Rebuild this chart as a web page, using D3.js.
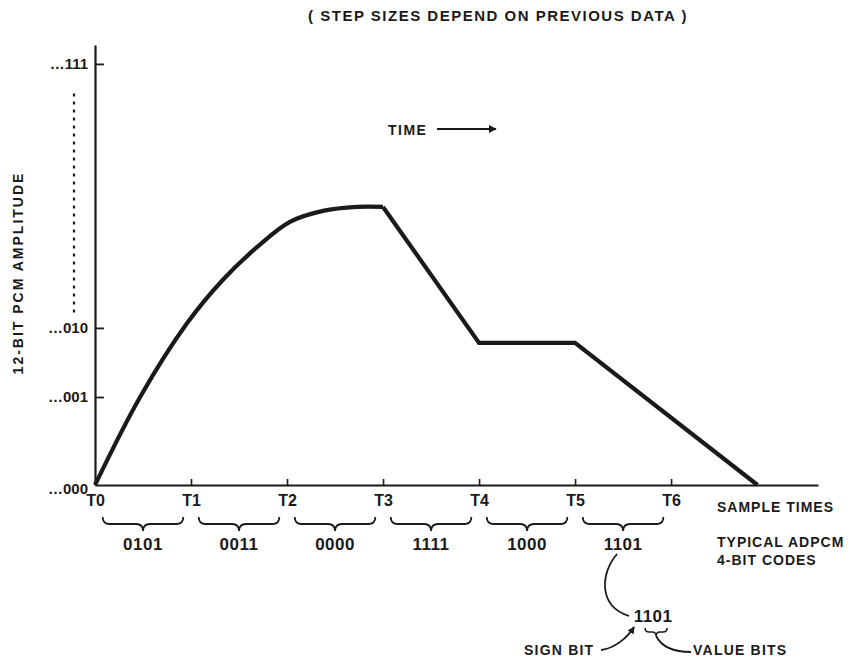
<!DOCTYPE html>
<html>
<head>
<meta charset="utf-8">
<script src="https://cdn.jsdelivr.net/npm/d3@7"></script>
<style>
  body { margin: 0; background: #fff; }
  text { font-family: "Liberation Sans", Arial, sans-serif; font-weight: bold; fill: #1a1a1a; }
</style>
</head>
<body>
<div id="chart"></div>
<script>
// sample instants T0..T6 sit at t = 0..6
var sampleTimes = ["T0", "T1", "T2", "T3", "T4", "T5", "T6"];
var codes = ["0101", "0011", "0000", "1111", "1000", "1101"];
var levelLabels = ["\u2026000", "\u2026001", "\u2026010", "\u2026111"];
var levelValues = [0, 20, 35.7, 95.7];

// smooth rise, T0 -> T3
var riseT = [0, 0.47, 0.96, 1.33, 1.69, 2.03, 2.375, 2.73, 3.0];
var riseV = [0, 20, 36.8, 46.6, 54.1, 59.8, 62.3, 63.2, 63.2];
// straight segments, T3 -> end
var fallT = [3, 4, 5, 6.9];
var fallV = [63.2, 32.3, 32.3, 0];

var width = 861, height = 661;

var svg = d3.select("#chart").append("svg")
    .attr("width", width)
    .attr("height", height);

var x = d3.scaleLinear().domain([0, 7.53]).range([95, 818]);
var y = d3.scaleLinear().domain([0, 100]).range([485, 45]);

var ink = "#1a1a1a";

// x axis
var xAxis = d3.axisBottom(x)
    .tickValues(d3.range(sampleTimes.length))
    .tickFormat(function(d) { return sampleTimes[d]; })
    .tickSizeInner(-6)
    .tickSizeOuter(0)
    .tickPadding(10);

var gx = svg.append("g")
    .attr("transform", "translate(0," + y(0) + ")")
    .call(xAxis);
gx.select(".domain").attr("stroke", ink).attr("stroke-width", 2.2);
gx.selectAll(".tick line").attr("stroke", ink).attr("stroke-width", 1.6);
gx.selectAll(".tick text").attr("font-size", 16).attr("fill", ink)
    .style("font-family", "Liberation Sans, Arial, sans-serif").style("font-weight", "bold");
gx.selectAll(".tick").filter(function(d) { return d === 0; }).select("line").remove();

// y axis
var yAxis = d3.axisLeft(y)
    .tickValues(levelValues)
    .tickFormat(function(d, i) { return levelLabels[i]; })
    .tickSizeInner(-9)
    .tickSizeOuter(0)
    .tickPadding(7);

var gy = svg.append("g")
    .attr("transform", "translate(" + x(0) + ",0)")
    .call(yAxis);
gy.select(".domain").attr("stroke", ink).attr("stroke-width", 2.2);
gy.selectAll(".tick line").attr("stroke", ink).attr("stroke-width", 1.8);
gy.selectAll(".tick").filter(function(d) { return d === 0; }).select("line").remove();
gy.selectAll(".tick text").attr("font-size", 15).attr("fill", ink)
    .style("font-family", "Liberation Sans, Arial, sans-serif").style("font-weight", "bold")
    .attr("dy", function(d) { return d === 0 ? "0.55em" : "0.32em"; });

// dotted break in the level scale
svg.append("line")
    .attr("x1", 74).attr("x2", 74)
    .attr("y1", y(89)).attr("y2", y(39))
    .attr("stroke", ink)
    .attr("stroke-width", 2.2)
    .attr("stroke-dasharray", "3,5");

// y title
svg.append("text")
    .attr("transform", "translate(23," + 273 + ") rotate(-90)")
    .attr("text-anchor", "middle")
    .attr("font-size", 14)
    .attr("letter-spacing", 2)
    .text("12-BIT PCM AMPLITUDE");

// waveform
var rise = riseT.map(function(t, i) { return [t, riseV[i]]; });
var fall = fallT.map(function(t, i) { return [t, fallV[i]]; });

var line = d3.line()
    .x(function(d) { return x(d[0]); })
    .y(function(d) { return y(d[1]); });

svg.append("path")
    .datum(rise)
    .attr("fill", "none")
    .attr("stroke", ink)
    .attr("stroke-width", 4.2)
    .attr("stroke-linejoin", "round")
    .attr("d", line.curve(d3.curveCatmullRom.alpha(0.5)));

svg.append("path")
    .datum(fall)
    .attr("fill", "none")
    .attr("stroke", ink)
    .attr("stroke-width", 4.2)
    .attr("stroke-linejoin", "miter")
    .attr("d", line.curve(d3.curveLinear));

// title
svg.append("text")
    .attr("x", 498).attr("y", 21)
    .attr("text-anchor", "middle")
    .attr("font-size", 15)
    .attr("letter-spacing", 1.5)
    .text("( STEP SIZES DEPEND ON PREVIOUS DATA )");

// time arrow
svg.append("text")
    .attr("x", 388).attr("y", 135)
    .attr("font-size", 14)
    .attr("letter-spacing", 1.5)
    .text("TIME");

svg.append("defs").append("marker")
    .attr("id", "head")
    .attr("viewBox", "0 0 10 10")
    .attr("refX", 9).attr("refY", 5)
    .attr("markerWidth", 4).attr("markerHeight", 4)
    .attr("orient", "auto")
  .append("path")
    .attr("d", "M0,0 L10,5 L0,10 z")
    .attr("fill", ink);

svg.append("line")
    .attr("x1", 437).attr("x2", 496)
    .attr("y1", 129).attr("y2", 129)
    .attr("stroke", ink).attr("stroke-width", 2)
    .attr("marker-end", "url(#head)");

// braces + 4-bit codes
function brace(x0, x1, top, q) {
  var m = (x0 + x1) / 2;
  return "M" + x0 + "," + top +
    " Q" + x0 + "," + (top + q) + " " + (x0 + q) + "," + (top + q) +
    " L" + (m - q) + "," + (top + q) +
    " Q" + m + "," + (top + q) + " " + m + "," + (top + 2 * q) +
    " Q" + m + "," + (top + q) + " " + (m + q) + "," + (top + q) +
    " L" + (x1 - q) + "," + (top + q) +
    " Q" + x1 + "," + (top + q) + " " + x1 + "," + top;
}

var codeG = svg.selectAll(".code").data(codes).enter().append("g").attr("class", "code");

codeG.append("path")
    .attr("d", function(d, i) { return brace(x(i + 0.08), x(i + 0.92), 517, 7); })
    .attr("fill", "none")
    .attr("stroke", ink)
    .attr("stroke-width", 1.8);

codeG.append("text")
    .attr("x", function(d, i) { return x(i + 0.5); })
    .attr("y", 550)
    .attr("text-anchor", "middle")
    .attr("font-size", 17)
    .attr("letter-spacing", 0.5)
    .text(function(d) { return d; });

// right-side labels
svg.append("text").attr("x", 717).attr("y", 512)
    .attr("font-size", 14).attr("letter-spacing", 1)
    .text("SAMPLE TIMES");
svg.append("text").attr("x", 717).attr("y", 547)
    .attr("font-size", 14).attr("letter-spacing", 1)
    .text("TYPICAL ADPCM");
svg.append("text").attr("x", 717).attr("y", 565)
    .attr("font-size", 14).attr("letter-spacing", 1)
    .text("4-BIT CODES");

// breakdown of the last code
var cx = x(5.5);
svg.append("path")
    .attr("d", "M" + (cx - 6) + ",554 C" + (cx - 22) + ",572 " + (cx - 26) + ",606 " + (cx + 6) + ",616")
    .attr("fill", "none").attr("stroke", ink).attr("stroke-width", 1.8);

svg.append("text")
    .attr("x", cx + 30).attr("y", 622)
    .attr("text-anchor", "middle")
    .attr("font-size", 17)
    .attr("letter-spacing", 0.5)
    .text(codes[5]);

svg.append("path")
    .attr("d", "M" + (cx - 22) + ",650 C" + (cx - 8) + ",648 " + (cx + 4) + ",638 " + (cx + 11) + ",627")
    .attr("fill", "none").attr("stroke", ink).attr("stroke-width", 1.8)
    .attr("marker-end", "url(#head)");

svg.append("path")
    .attr("d", brace(cx + 22, cx + 44, 628, 4))
    .attr("fill", "none").attr("stroke", ink).attr("stroke-width", 1.6);

svg.append("path")
    .attr("d", "M" + (cx + 33) + ",636 C" + (cx + 38) + ",646 " + (cx + 50) + ",652 " + (cx + 68) + ",652")
    .attr("fill", "none").attr("stroke", ink).attr("stroke-width", 1.8);

svg.append("text").attr("x", cx - 99).attr("y", 655)
    .attr("font-size", 14).attr("letter-spacing", 1.2)
    .text("SIGN BIT");
svg.append("text").attr("x", cx + 70).attr("y", 655)
    .attr("font-size", 14).attr("letter-spacing", 1.2)
    .text("VALUE BITS");
</script>
</body>
</html>
